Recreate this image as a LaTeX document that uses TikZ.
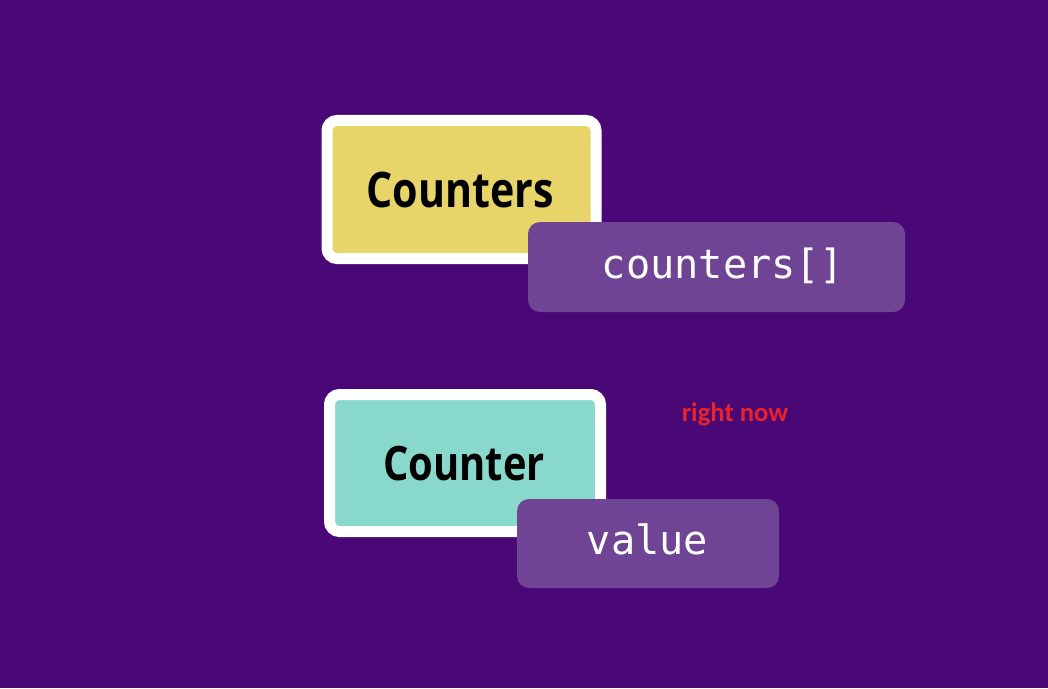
\documentclass[tikz,border=0pt]{standalone}
\usepackage{fontspec}
\newfontfamily\titlefont[FakeStretch=0.84]{Open Sans Bold}
\newfontfamily\codefont{DejaVu Sans Mono}
\newfontfamily\notefont{Carlito}[BoldFont={* Bold}]
\definecolor{bgpurple}{HTML}{4A0876}
\definecolor{boxyellow}{HTML}{E8D56A}
\definecolor{boxteal}{HTML}{88D8CC}
\definecolor{fieldpurple}{HTML}{6F4494}
\definecolor{notered}{HTML}{E8232A}
\begin{document}
\begin{tikzpicture}[x=0.75pt,y=-0.75pt,
  classbox/.style={draw=white, line width=8.25pt, rounded corners=7.5pt,
    minimum width=201.75pt, minimum height=103.5pt, inner sep=0pt},
  fieldbox/.style={fill=fieldpurple, rounded corners=9pt, inner sep=0pt},
  classlabel/.style={anchor=base, inner sep=0pt, text=black,
    font=\titlefont\fontsize{36.75pt}{40pt}\selectfont},
  fieldlabel/.style={anchor=base, inner sep=0pt, text=white,
    font=\codefont\fontsize{30.2pt}{33pt}\selectfont}]
  % canvas
  \fill[bgpurple] (0,0) rectangle (1048,688);
  \useasboundingbox (0,0) rectangle (1048,688);

  % Counters class and its array field
  \node[classbox, fill=boxyellow] (counters) at (461.5,189.5) {};
  \node[classlabel] (counterstext) at (460,207) {Counters};
  \node[fieldbox, minimum width=282.75pt, minimum height=67.5pt] (arrfield) at (716.5,267) {};
  \node[fieldlabel] (arrtext) at (723,278) {counters[]};

  % Counter class and its value field
  \node[classbox, fill=boxteal, minimum width=203.25pt, minimum height=102.75pt] (counter) at (465,463) {};
  \node[classlabel, font=\titlefont\fontsize{35.6pt}{39pt}\selectfont] (countertext) at (464,480) {Counter};
  \node[fieldbox, minimum width=196.5pt, minimum height=66.75pt] (valfield) at (648,543.5) {};
  \node[fieldlabel] (valtext) at (647.5,554) {value};

  % note
  \node[anchor=base, inner sep=0pt, text=notered, font=\notefont\bfseries\fontsize{20pt}{22pt}\selectfont] (note) at (735,421) {right now};
\end{tikzpicture}
\end{document}
